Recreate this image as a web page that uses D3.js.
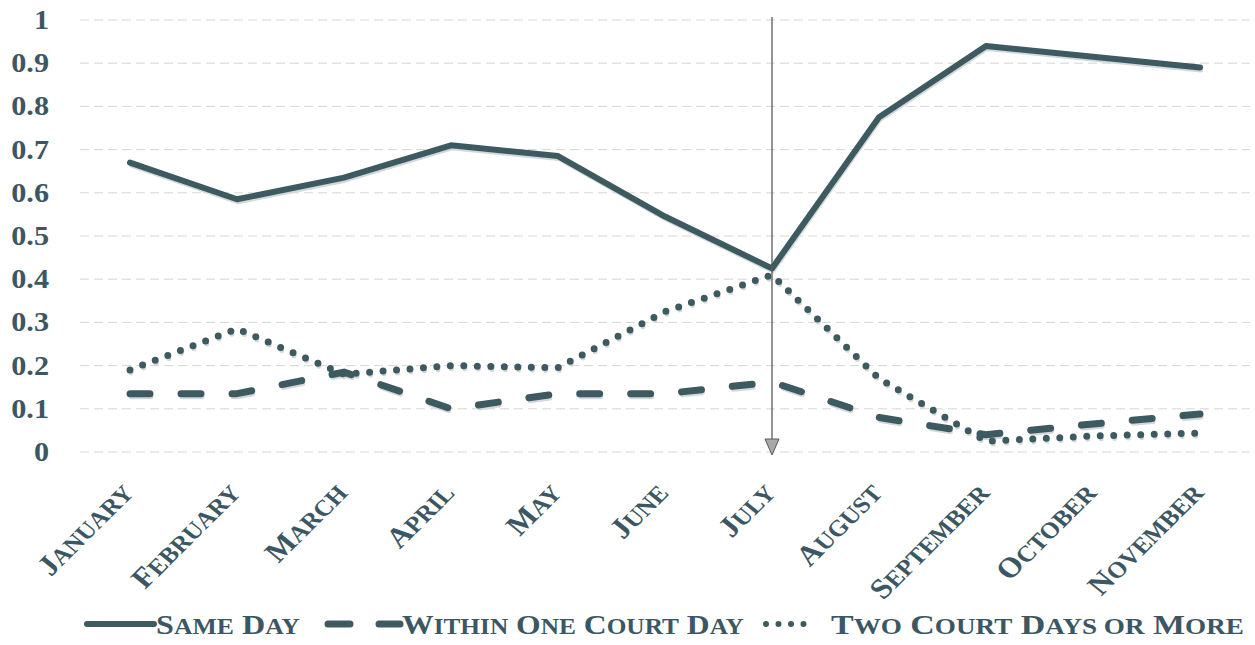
<!DOCTYPE html>
<html>
<head>
<meta charset="utf-8">
<script src="https://cdn.jsdelivr.net/npm/d3@7"></script>
<style>
  body { margin: 0; background: #fff; }
  svg { display: block; }
  text { font-family: "Liberation Serif", "Times New Roman", serif; font-weight: bold; }
</style>
</head>
<body>
<svg id="chart"></svg>
<script>
const width = 1255
const height = 645

const months = ["January", "February", "March", "April", "May", "June", "July", "August", "September", "October", "November"]
const sameDay = [0.67, 0.585, 0.635, 0.71, 0.685, 0.545, 0.425, 0.775, 0.94, 0.915, 0.89]
const withinOne = [0.135, 0.135, 0.185, 0.10, 0.135, 0.135, 0.162, 0.08, 0.04, 0.065, 0.088]
const twoOrMore = [0.19, 0.285, 0.18, 0.20, 0.195, 0.325, 0.41, 0.17, 0.025, 0.037, 0.044]
const yTicks = [0, 0.1, 0.2, 0.3, 0.4, 0.5, 0.6, 0.7, 0.8, 0.9, 1]
const seriesNames = ["Same Day", "Within One Court Day", "Two Court Days or More"]
const markedMonth = "July"

const lineColor = "#3e5a61"
const textColor = "#3b5764"
const stretch = 1.12

const svg = d3.select("#chart")
  .attr("width", width)
  .attr("height", height)

const x = d3.scalePoint()
  .domain(months)
  .range([130, 1200])

const y = d3.scaleLinear()
  .domain([0, 1])
  .range([452, 20])

// small caps like Word: capital letters full size, the rest upper case at 80%
function smallCaps(sel, str, size) {
  str.split(" ").forEach(function (w, i) {
    const big = w[0] === w[0].toUpperCase()
    const lead = i > 0 ? " " : ""
    if (big) {
      sel.append("tspan")
        .style("font-size", size + "px")
        .text(lead + w[0])
      if (w.length > 1)
        sel.append("tspan")
          .style("font-size", (size * 0.8) + "px")
          .text(w.slice(1).toUpperCase())
    } else {
      sel.append("tspan")
        .style("font-size", (size * 0.8) + "px")
        .text(lead + w.toUpperCase())
    }
  })
}

// gridlines
svg.append("g")
  .selectAll("line")
  .data(yTicks)
  .enter()
  .append("line")
  .attr("x1", 80)
  .attr("x2", 1250)
  .attr("y1", d => y(d))
  .attr("y2", d => y(d))
  .attr("stroke", "#d6d6d6")
  .attr("stroke-width", 1)
  .attr("stroke-dasharray", "9 5")

// y axis labels
svg.append("g")
  .selectAll("text")
  .data(yTicks)
  .enter()
  .append("text")
  .attr("transform", d => "translate(49," + (y(d) + 9) + ") scale(" + stretch + ",1)")
  .attr("text-anchor", "end")
  .attr("fill", textColor)
  .style("font-size", "27px")
  .text(d => d3.format("")(d))

// x axis labels
const xl = svg.append("g")
  .selectAll("text")
  .data(months)
  .enter()
  .append("text")
  .attr("transform", d => "translate(" + (x(d) + 5) + ",494) scale(" + stretch + ",1) rotate(-48)")
  .attr("text-anchor", "end")
  .attr("fill", textColor)
xl.each(function (d) { smallCaps(d3.select(this), d, 28.5) })

const line = d3.line()
  .x((d, i) => x(months[i]))
  .y(d => y(d))

const series = [
  { values: sameDay, dash: null, w: 6 },
  { values: withinOne, dash: "20 31", w: 7 },
  { values: twoOrMore, dash: "0 13.5", w: 7 }
]

const lines = svg.append("g")

// faint scan shadow under each line
lines.selectAll(".shadow")
  .data(series)
  .enter()
  .append("path")
  .attr("class", "shadow")
  .attr("transform", "translate(1,3)")
  .attr("fill", "none")
  .attr("stroke", "#d4d8da")
  .attr("stroke-width", d => d.w - 2)
  .attr("stroke-linecap", "round")
  .attr("stroke-linejoin", "round")
  .attr("stroke-dasharray", d => d.dash)
  .attr("d", d => line(d.values))

lines.selectAll(".series")
  .data(series)
  .enter()
  .append("path")
  .attr("class", "series")
  .attr("fill", "none")
  .attr("stroke", lineColor)
  .attr("stroke-width", d => d.w)
  .attr("stroke-linecap", "round")
  .attr("stroke-linejoin", "round")
  .attr("stroke-dasharray", d => d.dash)
  .attr("d", d => line(d.values))

// arrow marking July
const ax = x(markedMonth)
svg.append("line")
  .attr("x1", ax)
  .attr("x2", ax)
  .attr("y1", y(1) - 3)
  .attr("y2", y(0) - 12)
  .attr("stroke", "#5a5a5a")
  .attr("stroke-width", 1.3)
svg.append("path")
  .attr("d", "M" + (ax - 7) + "," + (y(0) - 13) + "L" + (ax + 7) + "," + (y(0) - 13) + "L" + ax + "," + (y(0) + 3) + "Z")
  .attr("fill", "#a9a9a9")
  .attr("stroke", "#5a5a5a")
  .attr("stroke-width", 1)

// legend
const legendY = 624
const legend = svg.append("g")

legend.append("line")
  .attr("x1", 87).attr("x2", 154)
  .attr("y1", legendY).attr("y2", legendY)
  .attr("stroke", lineColor).attr("stroke-width", 6).attr("stroke-linecap", "round")

legend.append("line")
  .attr("x1", 328).attr("x2", 400)
  .attr("y1", legendY).attr("y2", legendY)
  .attr("stroke", lineColor).attr("stroke-width", 7).attr("stroke-linecap", "round")
  .attr("stroke-dasharray", "22 29")

legend.append("line")
  .attr("x1", 766).attr("x2", 816)
  .attr("y1", legendY).attr("y2", legendY)
  .attr("stroke", lineColor).attr("stroke-width", 6).attr("stroke-linecap", "round")
  .attr("stroke-dasharray", "0 12.5")

const legendX = [156, 402, 831]
const legendW = [144, 342, 413]
seriesNames.forEach(function (name, i) {
  const t = legend.append("text")
    .attr("fill", textColor)
  smallCaps(t, name, 28)
  const sx = legendW[i] / t.node().getComputedTextLength()
  t.attr("transform", "translate(" + legendX[i] + ",634) scale(" + sx + ",1)")
})
</script>
</body>
</html>
